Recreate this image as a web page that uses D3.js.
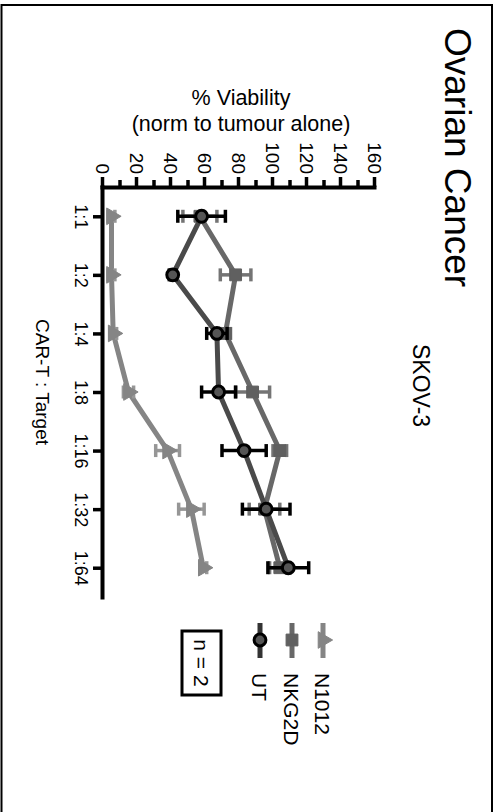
<!DOCTYPE html>
<html>
<head>
<meta charset="utf-8">
<script src="https://cdn.jsdelivr.net/npm/d3@7"></script>
<style>
  html, body { margin: 0; padding: 0; background: #fff; }
  svg text { font-family: "Liberation Sans", Arial, sans-serif; fill: #000; }
</style>
</head>
<body>
<div id="chart"></div>
<script>
// data
const categories = ['1:1', '1:2', '1:4', '1:8', '1:16', '1:32', '1:64'];
const utMean    = [58, 41, 67, 68, 83, 96, 109];
const utErr     = [14, 2, 6, 10, 13, 14, 12];
const nkg2dMean = [57, 78, 72, 88, 104, 95, 104];
const nkg2dErr  = [10, 9, 3, 10, 4, 9, 6];
const n1012Mean = [5, 5, 6, 15, 38, 52, 59];
const n1012Err  = [2, 2, 2, 3, 7, 7.5, 2];
const yTicks    = [0, 20, 40, 60, 80, 100, 120, 140, 160];

(function(){
  const width = 497, height = 812;
  const series = [
    {name: 'N1012', mean: n1012Mean, err: n1012Err, symbol: d3.symbolTriangle, size: 120,
     line: '#858585', fill: '#858585', stroke: '#858585', bar: '#969696', lv: 174},
    {name: 'NKG2D', mean: nkg2dMean, err: nkg2dErr, symbol: d3.symbolSquare, size: 140,
     line: '#686868', fill: '#606060', stroke: '#606060', bar: '#747474', lv: 205},
    {name: 'UT', mean: utMean, err: utErr, symbol: d3.symbolCircle, size: 110,
     line: '#4a4a4a', fill: '#555', stroke: '#000', bar: '#000', lv: 237}
  ];

  let svg = d3.select('#chart').append('svg')
    .attr('width', width)
    .attr('height', height);

  // page frame
  svg.append('rect')
    .attr('x', 1.5).attr('y', 5)
    .attr('width', 490.5).attr('height', 830)
    .attr('fill', 'none').attr('stroke', '#000').attr('stroke-width', 2);

  // the whole figure is turned a quarter turn clockwise
  let g = svg.append('g')
    .attr('transform', 'translate(' + width + ',0) rotate(90)');

  let x = d3.scalePoint().domain(categories).range([187, 597]).padding(0.5);
  let y = d3.scaleLinear().domain([0, 160]).range([394, 122]);

  // minor ticks
  g.append('g').selectAll('line')
    .data(d3.range(10, 160, 20))
    .enter().append('line')
      .attr('x1', 187).attr('x2', 180)
      .attr('y1', d => y(d)).attr('y2', d => y(d))
      .attr('stroke', '#000').attr('stroke-width', 3.5);

  let yAxis = g.append('g')
    .attr('transform', 'translate(187,0)')
    .call(d3.axisLeft(y).tickValues(yTicks).tickSize(10).tickSizeOuter(0).tickPadding(3));
  let xAxis = g.append('g')
    .attr('transform', 'translate(0,394)')
    .call(d3.axisBottom(x).tickSize(10).tickSizeOuter(0).tickPadding(5));

  [yAxis, xAxis].forEach(a => {
    a.select('.domain').attr('stroke-width', 4).attr('stroke-linecap', 'square');
    a.selectAll('.tick line').attr('stroke-width', 3.5);
  });
  yAxis.selectAll('.tick text').style('font-size', '19px');
  xAxis.selectAll('.tick text').style('font-size', '18px');

  // category axis title
  g.append('text')
    .attr('x', 382).attr('y', 461)
    .attr('text-anchor', 'middle')
    .style('font-size', '19px')
    .text('CAR-T : Target');

  // chart titles
  g.append('text')
    .attr('x', 28).attr('y', 52)
    .style('font-size', '37px')
    .text('Ovarian Cancer');
  g.append('text')
    .attr('x', 344).attr('y', 84)
    .style('font-size', '23px')
    .text('SKOV-3');

  // series
  series.forEach(s => {
    let sg = g.append('g').attr('class', 'series');
    let pts = categories.map((c, i) => ({c: c, m: s.mean[i], e: s.err[i]}));

    sg.append('path')
      .datum(pts)
      .attr('fill', 'none')
      .attr('stroke', s.line)
      .attr('stroke-width', 5)
      .attr('stroke-linejoin', 'round')
      .attr('d', d3.line().x(d => x(d.c)).y(d => y(d.m)));

    let bars = sg.selectAll('.err').data(pts).enter().append('g').attr('class', 'err');
    bars.append('line')
      .attr('x1', d => x(d.c)).attr('x2', d => x(d.c))
      .attr('y1', d => y(d.m - d.e)).attr('y2', d => y(d.m + d.e))
      .attr('stroke', s.bar).attr('stroke-width', 3.5);
    [-1, 1].forEach(k => {
      bars.append('line')
        .attr('x1', d => x(d.c) - 6.5).attr('x2', d => x(d.c) + 6.5)
        .attr('y1', d => y(d.m + k * d.e)).attr('y2', d => y(d.m + k * d.e))
        .attr('stroke', s.bar).attr('stroke-width', 3.5);
    });

    sg.selectAll('.pt').data(pts).enter().append('path')
      .attr('class', 'pt')
      .attr('transform', d => 'translate(' + x(d.c) + ',' + y(d.m) + ')')
      .attr('d', d3.symbol().type(s.symbol).size(s.size))
      .attr('fill', s.fill)
      .attr('stroke', s.stroke)
      .attr('stroke-width', s.name === 'UT' ? 3 : 1);

    // legend entry
    let lg = g.append('g').attr('class', 'legend');
    lg.append('line')
      .attr('x1', 623).attr('x2', 658).attr('y1', s.lv).attr('y2', s.lv)
      .attr('stroke', s.name === 'UT' ? '#333' : s.line).attr('stroke-width', 5);
    lg.append('path')
      .attr('transform', 'translate(640,' + s.lv + ')')
      .attr('d', d3.symbol().type(s.symbol).size(s.size))
      .attr('fill', s.fill)
      .attr('stroke', s.stroke)
      .attr('stroke-width', s.name === 'UT' ? 3 : 1);
    lg.append('text')
      .attr('x', 673).attr('y', s.lv)
      .attr('dy', '0.36em')
      .style('font-size', '21px')
      .text(s.name);
  });

  // n = 2 box
  g.append('rect')
    .attr('x', 631).attr('y', 276)
    .attr('width', 64).attr('height', 39)
    .attr('fill', 'none').attr('stroke', '#000').attr('stroke-width', 3);
  g.append('text')
    .attr('x', 663).attr('y', 295.5)
    .attr('dy', '0.36em')
    .attr('text-anchor', 'middle')
    .style('font-size', '21px')
    .text('n = 2');

  // value axis title (horizontal on the page)
  let t = svg.append('g')
    .attr('text-anchor', 'middle')
    .style('font-size', '21.5px');
  t.append('text').attr('x', 241).attr('y', 105).text('% Viability');
  t.append('text').attr('x', 241).attr('y', 131).text('(norm to tumour alone)');
})();
</script>
</body>
</html>
